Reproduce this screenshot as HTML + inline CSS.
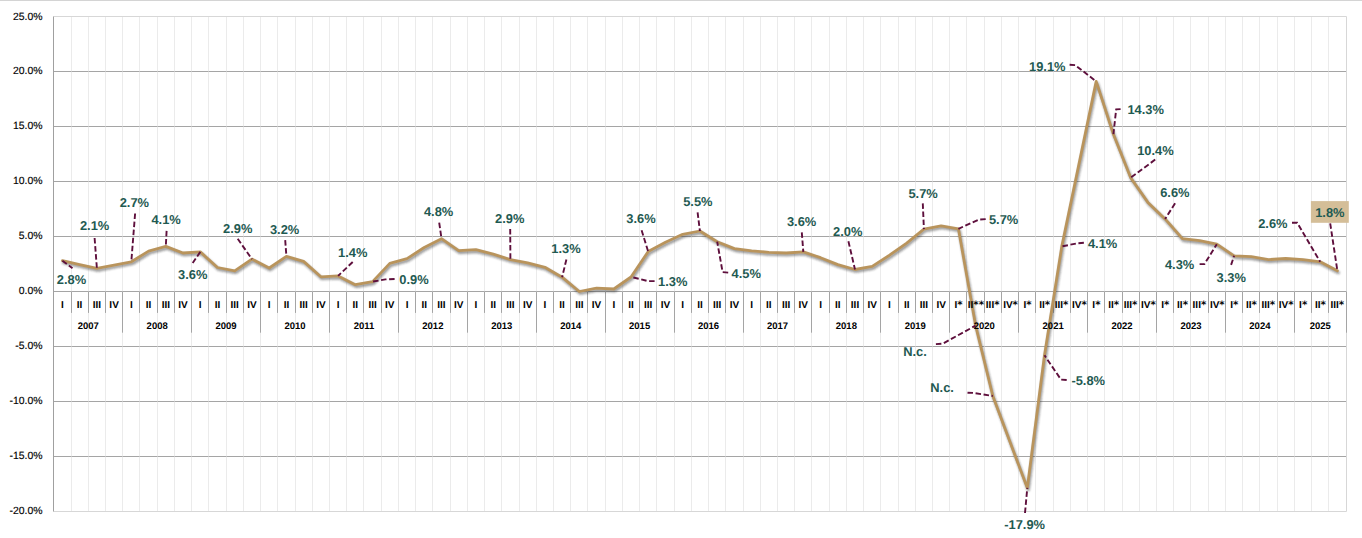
<!DOCTYPE html>
<html lang="es"><head><meta charset="utf-8"><title>Chart</title>
<style>html,body{margin:0;padding:0;background:#fff;}body{width:1362px;height:538px;overflow:hidden;}svg{display:block;font-family:"Liberation Sans",sans-serif;text-rendering:geometricPrecision;}.ax{font-size:10.45px;fill:#000;text-anchor:end;stroke:#000;stroke-width:0.15px;}.q{font-size:10px;font-weight:bold;fill:#000;text-anchor:middle;}.as{font-family:"DejaVu Sans",sans-serif;font-size:10.2px;font-weight:bold;}.yr{font-size:9.5px;font-weight:bold;fill:#000;text-anchor:middle;}.dl{font-size:12.9px;font-weight:bold;fill:#1f5a52;}.ld{fill:none;stroke:#5e0f3c;stroke-width:1.9;stroke-dasharray:5.5 2.6;}</style></head><body>
<svg width="1362" height="538" viewBox="0 0 1362 538">
<rect x="0" y="0" width="1362" height="538" fill="#fff"/>
<rect x="0" y="0" width="1362" height="1" fill="#d4d4d4"/>
<path d="M53.5 71.50H1346.5M53.5 126.50H1346.5M53.5 181.50H1346.5M53.5 236.50H1346.5M53.5 291.50H1346.5M53.5 346.50H1346.5M53.5 401.50H1346.5M53.5 456.50H1346.5" stroke="#a5a5a5" stroke-width="1" fill="none"/>
<path d="M71.5 16.5V511.5M88.5 16.5V511.5M105.5 16.5V511.5M122.5 16.5V511.5M139.5 16.5V511.5M157.5 16.5V511.5M174.5 16.5V511.5M191.5 16.5V511.5M208.5 16.5V511.5M226.5 16.5V511.5M243.5 16.5V511.5M260.5 16.5V511.5M277.5 16.5V511.5M295.5 16.5V511.5M312.5 16.5V511.5M329.5 16.5V511.5M346.5 16.5V511.5M363.5 16.5V511.5M381.5 16.5V511.5M398.5 16.5V511.5M415.5 16.5V511.5M432.5 16.5V511.5M450.5 16.5V511.5M467.5 16.5V511.5M484.5 16.5V511.5M501.5 16.5V511.5M519.5 16.5V511.5M536.5 16.5V511.5M553.5 16.5V511.5M570.5 16.5V511.5M587.5 16.5V511.5M605.5 16.5V511.5M622.5 16.5V511.5M639.5 16.5V511.5M656.5 16.5V511.5M674.5 16.5V511.5M691.5 16.5V511.5M708.5 16.5V511.5M725.5 16.5V511.5M743.5 16.5V511.5M760.5 16.5V511.5M777.5 16.5V511.5M794.5 16.5V511.5M811.5 16.5V511.5M829.5 16.5V511.5M846.5 16.5V511.5M863.5 16.5V511.5M880.5 16.5V511.5M898.5 16.5V511.5M915.5 16.5V511.5M932.5 16.5V511.5M949.5 16.5V511.5M966.5 16.5V511.5M984.5 16.5V511.5M1001.5 16.5V511.5M1018.5 16.5V511.5M1035.5 16.5V511.5M1053.5 16.5V511.5M1070.5 16.5V511.5M1087.5 16.5V511.5M1104.5 16.5V511.5M1122.5 16.5V511.5M1139.5 16.5V511.5M1156.5 16.5V511.5M1173.5 16.5V511.5M1190.5 16.5V511.5M1208.5 16.5V511.5M1225.5 16.5V511.5M1242.5 16.5V511.5M1259.5 16.5V511.5M1277.5 16.5V511.5M1294.5 16.5V511.5M1311.5 16.5V511.5M1328.5 16.5V511.5" stroke="#dbdbdb" stroke-opacity="0.556" stroke-width="1" fill="none"/>
<path d="M53.5 16.5H1346.5V511.5H53.5" stroke="#d7d7d7" stroke-width="1" fill="none"/>
<path d="M53.50 291.5V332.7M71.50 291.5V312.9M88.50 291.5V312.9M105.50 291.5V312.9M122.50 291.5V332.7M139.50 291.5V312.9M157.50 291.5V312.9M174.50 291.5V312.9M191.50 291.5V332.7M208.50 291.5V312.9M226.50 291.5V312.9M243.50 291.5V312.9M260.50 291.5V332.7M277.50 291.5V312.9M295.50 291.5V312.9M312.50 291.5V312.9M329.50 291.5V332.7M346.50 291.5V312.9M363.50 291.5V312.9M381.50 291.5V312.9M398.50 291.5V332.7M415.50 291.5V312.9M432.50 291.5V312.9M450.50 291.5V312.9M467.50 291.5V332.7M484.50 291.5V312.9M501.50 291.5V312.9M519.50 291.5V312.9M536.50 291.5V332.7M553.50 291.5V312.9M570.50 291.5V312.9M587.50 291.5V312.9M605.50 291.5V332.7M622.50 291.5V312.9M639.50 291.5V312.9M656.50 291.5V312.9M674.50 291.5V332.7M691.50 291.5V312.9M708.50 291.5V312.9M725.50 291.5V312.9M743.50 291.5V332.7M760.50 291.5V312.9M777.50 291.5V312.9M794.50 291.5V312.9M811.50 291.5V332.7M829.50 291.5V312.9M846.50 291.5V312.9M863.50 291.5V312.9M880.50 291.5V332.7M898.50 291.5V312.9M915.50 291.5V312.9M932.50 291.5V312.9M949.50 291.5V332.7M966.50 291.5V312.9M984.50 291.5V312.9M1001.50 291.5V312.9M1018.50 291.5V332.7M1035.50 291.5V312.9M1053.50 291.5V312.9M1070.50 291.5V312.9M1087.50 291.5V332.7M1104.50 291.5V312.9M1122.50 291.5V312.9M1139.50 291.5V312.9M1156.50 291.5V332.7M1173.50 291.5V312.9M1190.50 291.5V312.9M1208.50 291.5V312.9M1225.50 291.5V332.7M1242.50 291.5V312.9M1259.50 291.5V312.9M1277.50 291.5V312.9M1294.50 291.5V332.7M1311.50 291.5V312.9M1328.50 291.5V312.9M1346.50 291.5V332.7" stroke="#a5a5a5" stroke-width="1" fill="none"/>
<path d="M53.5 16.5V511.5" stroke="#a0a0a0" stroke-width="1" fill="none"/>
<defs><filter id="sh" x="-2%" y="-2%" width="104%" height="104%"><feGaussianBlur stdDeviation="0.8"/></filter></defs>
<path d="M62.4 260.7L79.6 264.6L96.9 268.4L114.1 265.1L131.3 261.8L148.6 251.1L165.8 246.4L183.0 253.0L200.3 251.9L217.5 267.5L234.7 270.8L251.9 259.1L269.2 268.0L286.4 256.3L303.6 261.4L320.9 276.8L338.1 275.9L355.3 284.7L372.6 281.6L389.8 263.4L407.0 258.7L424.2 247.5L441.5 238.7L458.7 250.6L475.9 249.7L493.2 254.1L510.4 259.6L527.6 262.9L544.9 267.3L562.1 277.2L579.3 291.5L596.5 288.2L613.8 289.0L631.0 277.0L648.2 251.6L665.5 242.3L682.7 234.3L699.9 231.0L717.2 241.7L734.4 248.6L751.6 250.8L768.8 252.4L786.1 253.0L803.3 251.9L820.5 257.7L837.8 264.6L855.0 269.5L872.2 266.4L889.5 255.2L906.7 243.1L923.9 229.1L941.1 225.8L958.4 228.8L975.6 325.6L992.8 396.0L1010.1 442.2L1027.3 487.9L1044.5 355.3L1061.8 246.4L1079.0 163.9L1096.2 81.4L1113.4 134.2L1130.7 177.7L1147.9 202.4L1165.1 218.9L1182.4 238.7L1199.6 240.6L1216.8 244.2L1234.1 255.8L1251.3 256.7L1268.5 259.6L1285.7 258.5L1303.0 259.6L1320.2 261.8L1337.4 270.8" transform="translate(1.0,1.9)" stroke="#2a2a2a" stroke-opacity="0.5" stroke-width="2.8" fill="none" stroke-linejoin="round" stroke-linecap="round" filter="url(#sh)"/>
<path d="M62.4 260.7L79.6 264.6L96.9 268.4L114.1 265.1L131.3 261.8L148.6 251.1L165.8 246.4L183.0 253.0L200.3 251.9L217.5 267.5L234.7 270.8L251.9 259.1L269.2 268.0L286.4 256.3L303.6 261.4L320.9 276.8L338.1 275.9L355.3 284.7L372.6 281.6L389.8 263.4L407.0 258.7L424.2 247.5L441.5 238.7L458.7 250.6L475.9 249.7L493.2 254.1L510.4 259.6L527.6 262.9L544.9 267.3L562.1 277.2L579.3 291.5L596.5 288.2L613.8 289.0L631.0 277.0L648.2 251.6L665.5 242.3L682.7 234.3L699.9 231.0L717.2 241.7L734.4 248.6L751.6 250.8L768.8 252.4L786.1 253.0L803.3 251.9L820.5 257.7L837.8 264.6L855.0 269.5L872.2 266.4L889.5 255.2L906.7 243.1L923.9 229.1L941.1 225.8L958.4 228.8L975.6 325.6L992.8 396.0L1010.1 442.2L1027.3 487.9L1044.5 355.3L1061.8 246.4L1079.0 163.9L1096.2 81.4L1113.4 134.2L1130.7 177.7L1147.9 202.4L1165.1 218.9L1182.4 238.7L1199.6 240.6L1216.8 244.2L1234.1 255.8L1251.3 256.7L1268.5 259.6L1285.7 258.5L1303.0 259.6L1320.2 261.8L1337.4 270.8" stroke="#b9945c" stroke-width="2.8" fill="none" stroke-linejoin="round" stroke-linecap="round"/>
<text class="ax" x="42.6" y="20.00">25.0%</text>
<text class="ax" x="42.6" y="73.95">20.0%</text>
<text class="ax" x="42.6" y="128.95">15.0%</text>
<text class="ax" x="42.6" y="183.95">10.0%</text>
<text class="ax" x="42.6" y="238.95">5.0%</text>
<text class="ax" x="42.6" y="293.95">0.0%</text>
<text class="ax" x="42.6" y="348.95">-5.0%</text>
<text class="ax" x="42.6" y="403.95">-10.0%</text>
<text class="ax" x="42.6" y="458.95">-15.0%</text>
<text class="ax" x="42.6" y="513.95">-20.0%</text>
<text class="q" x="62.41" y="308.2">I</text>
<text class="q" x="79.64" y="308.2">II</text>
<text class="q" x="96.88" y="308.2">III</text>
<text class="q" x="114.10" y="308.2">IV</text>
<text class="q" x="131.33" y="308.2">I</text>
<text class="q" x="148.56" y="308.2">II</text>
<text class="q" x="165.80" y="308.2">III</text>
<text class="q" x="183.02" y="308.2">IV</text>
<text class="q" x="200.25" y="308.2">I</text>
<text class="q" x="217.49" y="308.2">II</text>
<text class="q" x="234.71" y="308.2">III</text>
<text class="q" x="251.94" y="308.2">IV</text>
<text class="q" x="269.18" y="308.2">I</text>
<text class="q" x="286.41" y="308.2">II</text>
<text class="q" x="303.63" y="308.2">III</text>
<text class="q" x="320.87" y="308.2">IV</text>
<text class="q" x="338.10" y="308.2">I</text>
<text class="q" x="355.33" y="308.2">II</text>
<text class="q" x="372.56" y="308.2">III</text>
<text class="q" x="389.79" y="308.2">IV</text>
<text class="q" x="407.02" y="308.2">I</text>
<text class="q" x="424.25" y="308.2">II</text>
<text class="q" x="441.48" y="308.2">III</text>
<text class="q" x="458.71" y="308.2">IV</text>
<text class="q" x="475.94" y="308.2">I</text>
<text class="q" x="493.17" y="308.2">II</text>
<text class="q" x="510.40" y="308.2">III</text>
<text class="q" x="527.62" y="308.2">IV</text>
<text class="q" x="544.86" y="308.2">I</text>
<text class="q" x="562.09" y="308.2">II</text>
<text class="q" x="579.31" y="308.2">III</text>
<text class="q" x="596.54" y="308.2">IV</text>
<text class="q" x="613.77" y="308.2">I</text>
<text class="q" x="631.00" y="308.2">II</text>
<text class="q" x="648.24" y="308.2">III</text>
<text class="q" x="665.46" y="308.2">IV</text>
<text class="q" x="682.69" y="308.2">I</text>
<text class="q" x="699.92" y="308.2">II</text>
<text class="q" x="717.15" y="308.2">III</text>
<text class="q" x="734.38" y="308.2">IV</text>
<text class="q" x="751.62" y="308.2">I</text>
<text class="q" x="768.85" y="308.2">II</text>
<text class="q" x="786.07" y="308.2">III</text>
<text class="q" x="803.30" y="308.2">IV</text>
<text class="q" x="820.53" y="308.2">I</text>
<text class="q" x="837.76" y="308.2">II</text>
<text class="q" x="855.00" y="308.2">III</text>
<text class="q" x="872.23" y="308.2">IV</text>
<text class="q" x="889.45" y="308.2">I</text>
<text class="q" x="906.68" y="308.2">II</text>
<text class="q" x="923.91" y="308.2">III</text>
<text class="q" x="941.14" y="308.2">IV</text>
<text class="q" style="text-anchor:start" x="954.52" y="308.2">I<tspan class="as" dy="0">*</tspan></text>
<text class="q" style="text-anchor:start" x="967.75" y="308.2">II<tspan class="as" dy="0">**</tspan></text>
<text class="q" style="text-anchor:start" x="985.83" y="308.2">III<tspan class="as" dy="0">*</tspan></text>
<text class="q" style="text-anchor:start" x="1003.16" y="308.2">IV<tspan class="as" dy="0">*</tspan></text>
<text class="q" style="text-anchor:start" x="1023.45" y="308.2">I<tspan class="as" dy="0">*</tspan></text>
<text class="q" style="text-anchor:start" x="1039.23" y="308.2">II<tspan class="as" dy="0">*</tspan></text>
<text class="q" style="text-anchor:start" x="1054.76" y="308.2">III<tspan class="as" dy="0">*</tspan></text>
<text class="q" style="text-anchor:start" x="1072.08" y="308.2">IV<tspan class="as" dy="0">*</tspan></text>
<text class="q" style="text-anchor:start" x="1092.37" y="308.2">I<tspan class="as" dy="0">*</tspan></text>
<text class="q" style="text-anchor:start" x="1108.14" y="308.2">II<tspan class="as" dy="0">*</tspan></text>
<text class="q" style="text-anchor:start" x="1123.67" y="308.2">III<tspan class="as" dy="0">*</tspan></text>
<text class="q" style="text-anchor:start" x="1141.00" y="308.2">IV<tspan class="as" dy="0">*</tspan></text>
<text class="q" style="text-anchor:start" x="1161.29" y="308.2">I<tspan class="as" dy="0">*</tspan></text>
<text class="q" style="text-anchor:start" x="1177.07" y="308.2">II<tspan class="as" dy="0">*</tspan></text>
<text class="q" style="text-anchor:start" x="1192.60" y="308.2">III<tspan class="as" dy="0">*</tspan></text>
<text class="q" style="text-anchor:start" x="1209.92" y="308.2">IV<tspan class="as" dy="0">*</tspan></text>
<text class="q" style="text-anchor:start" x="1230.21" y="308.2">I<tspan class="as" dy="0">*</tspan></text>
<text class="q" style="text-anchor:start" x="1245.99" y="308.2">II<tspan class="as" dy="0">*</tspan></text>
<text class="q" style="text-anchor:start" x="1261.51" y="308.2">III<tspan class="as" dy="0">*</tspan></text>
<text class="q" style="text-anchor:start" x="1278.84" y="308.2">IV<tspan class="as" dy="0">*</tspan></text>
<text class="q" style="text-anchor:start" x="1299.12" y="308.2">I<tspan class="as" dy="0">*</tspan></text>
<text class="q" style="text-anchor:start" x="1314.90" y="308.2">II<tspan class="as" dy="0">*</tspan></text>
<text class="q" style="text-anchor:start" x="1330.43" y="308.2">III<tspan class="as" dy="0">*</tspan></text>
<text class="yr" x="88.26" y="329.1">2007</text>
<text class="yr" x="157.18" y="329.1">2008</text>
<text class="yr" x="226.10" y="329.1">2009</text>
<text class="yr" x="295.02" y="329.1">2010</text>
<text class="yr" x="363.94" y="329.1">2011</text>
<text class="yr" x="432.86" y="329.1">2012</text>
<text class="yr" x="501.78" y="329.1">2013</text>
<text class="yr" x="570.70" y="329.1">2014</text>
<text class="yr" x="639.62" y="329.1">2015</text>
<text class="yr" x="708.54" y="329.1">2016</text>
<text class="yr" x="777.46" y="329.1">2017</text>
<text class="yr" x="846.38" y="329.1">2018</text>
<text class="yr" x="915.30" y="329.1">2019</text>
<text class="yr" x="984.22" y="329.1">2020</text>
<text class="yr" x="1053.14" y="329.1">2021</text>
<text class="yr" x="1122.06" y="329.1">2022</text>
<text class="yr" x="1190.98" y="329.1">2023</text>
<text class="yr" x="1259.90" y="329.1">2024</text>
<text class="yr" x="1320.20" y="329.1">2025</text>
<rect x="1310.9" y="201.1" width="37.9" height="21.7" fill="#d4be98"/>
<path class="ld" d="M62.4 260.7L72.5 268.3"/>
<path class="ld" d="M94.6 238.0L96.9 268.4"/>
<path class="ld" d="M135.1 213.5L131.3 261.8"/>
<path class="ld" d="M166.6 230.9L165.8 246.4"/>
<path class="ld" d="M200.3 251.9L192.7 263.0"/>
<path class="ld" d="M237.7 238.7L251.9 259.1"/>
<path class="ld" d="M285.2 240.1L286.4 256.3"/>
<path class="ld" d="M352.7 262.0L338.1 275.9"/>
<path class="ld" d="M394.6 279.0L385.4 279.4L372.6 281.6"/>
<path class="ld" d="M439.2 222.7L441.5 238.7"/>
<path class="ld" d="M510.2 228.9L510.4 259.6"/>
<path class="ld" d="M566.4 259.5L562.1 277.2"/>
<path class="ld" d="M641.6 230.2L648.2 251.6"/>
<path class="ld" d="M654.6 281.1L647.9 281.1L641.2 279.3L631.0 277.0"/>
<path class="ld" d="M697.6 212.4L699.9 231.0"/>
<path class="ld" d="M728.2 272.6L722.6 272.1L717.2 241.7"/>
<path class="ld" d="M801.8 232.4L803.3 251.9"/>
<path class="ld" d="M848.4 241.3L855.0 269.5"/>
<path class="ld" d="M922.8 203.4L923.9 229.1"/>
<path class="ld" d="M985.7 219.1L978.9 219.6L958.4 228.8"/>
<path class="ld" d="M935.9 344.1L942.9 343.6L975.6 325.6"/>
<path class="ld" d="M967.5 392.7L973.0 392.9L992.8 396.0"/>
<path class="ld" d="M1025.0 513.0L1027.3 487.9"/>
<path class="ld" d="M1066.7 380.0L1061.0 379.6L1044.5 355.3"/>
<path class="ld" d="M1083.9 242.8L1077.5 243.3L1061.8 246.4"/>
<path class="ld" d="M1069.6 64.8L1075.2 65.1L1096.2 81.4"/>
<path class="ld" d="M1120.6 109.1L1116.2 109.3L1113.4 134.2"/>
<path class="ld" d="M1155.2 159.6L1130.7 177.7"/>
<path class="ld" d="M1175.1 203.3L1165.1 218.9"/>
<path class="ld" d="M1199.6 264.1L1204.4 264.1L1216.8 244.2"/>
<path class="ld" d="M1231.1 264.9L1234.1 255.8"/>
<path class="ld" d="M1292.0 222.8L1297.2 222.8L1320.2 261.8"/>
<path class="ld" d="M1330.2 223.3L1337.4 270.8"/>
<text class="dl" x="56.8" y="284.0">2.8%</text>
<text class="dl" x="79.9" y="230.3">2.1%</text>
<text class="dl" x="119.7" y="207.4">2.7%</text>
<text class="dl" x="151.4" y="224.2">4.1%</text>
<text class="dl" x="178.0" y="279.4">3.6%</text>
<text class="dl" x="223.0" y="233.4">2.9%</text>
<text class="dl" x="269.9" y="234.4">3.2%</text>
<text class="dl" x="338.0" y="256.8">1.4%</text>
<text class="dl" x="399.3" y="284.0">0.9%</text>
<text class="dl" x="423.9" y="216.0">4.8%</text>
<text class="dl" x="495.0" y="223.1">2.9%</text>
<text class="dl" x="551.3" y="253.4">1.3%</text>
<text class="dl" x="626.3" y="222.8">3.6%</text>
<text class="dl" x="658.0" y="286.4">1.3%</text>
<text class="dl" x="683.2" y="205.8">5.5%</text>
<text class="dl" x="731.6" y="277.7">4.5%</text>
<text class="dl" x="786.9" y="226.1">3.6%</text>
<text class="dl" x="833.0" y="236.1">2.0%</text>
<text class="dl" x="908.4" y="197.8">5.7%</text>
<text class="dl" x="988.9" y="223.9">5.7%</text>
<text class="dl" x="903.2" y="356.2">N.c.</text>
<text class="dl" x="930.3" y="392.1">N.c.</text>
<text class="dl" x="1004.2" y="529.3">-17.9%</text>
<text class="dl" x="1071.4" y="385.0">-5.8%</text>
<text class="dl" x="1087.9" y="248.0">4.1%</text>
<text class="dl" x="1029.0" y="71.1">19.1%</text>
<text class="dl" x="1127.4" y="114.1">14.3%</text>
<text class="dl" x="1137.2" y="155.1">10.4%</text>
<text class="dl" x="1160.2" y="196.9">6.6%</text>
<text class="dl" x="1164.9" y="268.9">4.3%</text>
<text class="dl" x="1216.5" y="282.0">3.3%</text>
<text class="dl" x="1258.2" y="227.7">2.6%</text>
<text class="dl" x="1315.2" y="217.2">1.8%</text>
</svg></body></html>
